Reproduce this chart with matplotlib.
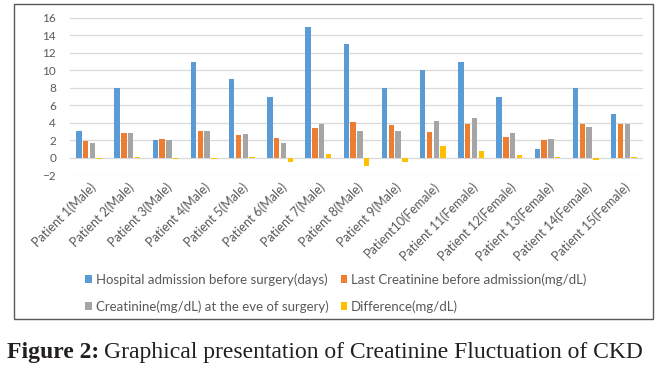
import matplotlib
matplotlib.use("Agg")
import matplotlib.pyplot as plt
from matplotlib.patches import Rectangle
import numpy as np

categories = ["Patient 1(Male)", "Patient 2(Male)", "Patient 3(Male)", "Patient 4(Male)",
              "Patient 5(Male)", "Patient 6(Male)", "Patient 7(Male)", "Patient 8(Male)",
              "Patient 9(Male)", "Patient10(Female)", "Patient 11(Female)", "Patient 12(Female)",
              "Patient 13(Female)", "Patient 14(Female)", "Patient 15(Female)"]
admission_days = [3, 8, 2, 11, 9, 7, 15, 13, 8, 10, 11, 7, 1, 8, 5]
last_creatinine = [1.85, 2.8, 2.1, 3.1, 2.6, 2.2, 3.4, 4.1, 3.7, 2.9, 3.8, 2.4, 2.0, 3.8, 3.8]
eve_creatinine = [1.65, 2.8, 2.0, 3.1, 2.7, 1.7, 3.8, 3.1, 3.1, 4.2, 4.5, 2.8, 2.1, 3.5, 3.9]
difference = [-0.2, 0.1, -0.2, -0.15, 0.1, -0.5, 0.4, -1.0, -0.55, 1.3, 0.7, 0.35, 0.1, -0.3, 0.1]

series_names = ["Hospital admission before surgery(days)",
                "Last Creatinine before admission(mg/dL)",
                "Creatinine(mg/dL) at the eve of surgery)",
                "Difference(mg/dL)"]
colors = ["#5B9BD5", "#ED7D31", "#A5A5A5", "#FFC000"]

font = "Lato"
fig = plt.figure(figsize=(6.62, 3.71), dpi=100)
W, H = 662, 371

# outer chart border
fig.patches.append(Rectangle((14 / W, 1 - 319 / H), (653 - 14) / W, (319 - 4) / H,
                             transform=fig.transFigure, fill=False,
                             edgecolor="#595959", linewidth=1.0))

ax = fig.add_axes([70 / W, 1 - 175 / H, (643 - 70) / W, (175 - 18) / H])
x = np.arange(len(categories))
bw = 0.145
stride = 0.178
all_series = [admission_days, last_creatinine, eve_creatinine, difference]
handles = []
for i, (vals, c, name) in enumerate(zip(all_series, colors, series_names)):
    h = ax.bar(x + (i - 1.5) * stride, vals, width=bw, color=c, label=name, zorder=3)
    handles.append(h)

ax.set_xlim(-0.5, len(categories) - 0.5)
ax.set_ylim(-2, 16)
ax.set_yticks(np.arange(-2, 17, 2))
ax.yaxis.grid(True, color="#D9D9D9", linewidth=0.9, zorder=0)
ax.tick_params(axis="both", length=0, labelcolor="#595959")
ax.tick_params(axis="y", labelsize=8.5, pad=10)
for s in ax.spines.values():
    s.set_visible(False)
ax.set_xticks(x)
ax.set_xticklabels(categories, rotation=45, ha="right", rotation_mode="anchor",
                   family=font, fontsize=9, color="#595959")
ax.tick_params(axis="x", pad=4)
for lbl in ax.get_yticklabels():
    lbl.set_family(font)

order = [0, 2, 1, 3]
leg = fig.legend([handles[i] for i in order], [series_names[i] for i in order],
                 loc="center", bbox_to_anchor=(336 / W, 1 - 293 / H),
                 ncol=2, frameon=False, prop={"family": font, "size": 9.5},
                 handlelength=0.5, handleheight=0.5, handletextpad=0.3,
                 columnspacing=0.9, labelspacing=1.1, labelcolor="#595959",
                 borderpad=0)

t1 = fig.text(7 / W, 1 - 358 / H, "Figure 2:", family="Liberation Serif",
              fontweight="bold", fontsize=17, va="baseline", color="#231F20")
fig.canvas.draw()
bb = t1.get_window_extent()
fig.text((bb.x1 + 5) / W, 1 - 358 / H,
         "Graphical presentation of Creatinine Fluctuation of CKD",
         family="Liberation Serif", fontsize=17, va="baseline", color="#231F20")

fig.savefig("out.png", dpi=100)
